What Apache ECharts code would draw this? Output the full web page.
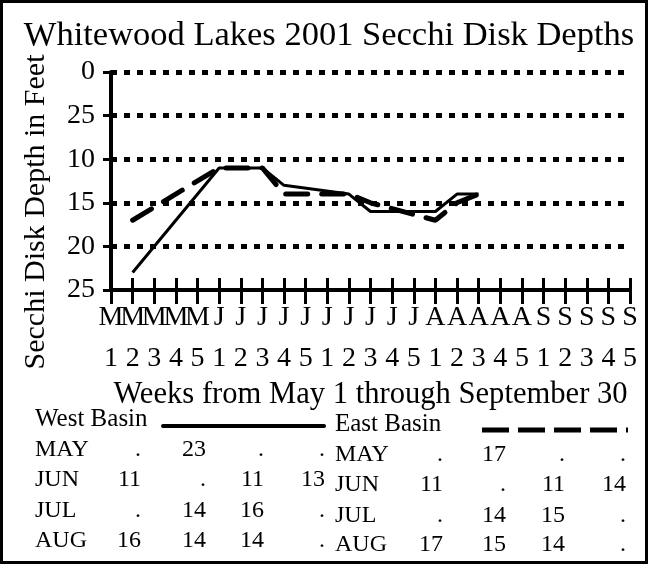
<!DOCTYPE html>
<html>
<head>
<meta charset="utf-8">
<script src="https://cdn.jsdelivr.net/npm/echarts@6/dist/echarts.min.js"></script>
<style>
  html, body { margin: 0; padding: 0; background: #fff; }
  #chart { width: 649px; height: 572px; }
</style>
</head>
<body>
<div id="chart"></div>
<script>
// Whitewood Lakes 2001 Secchi disk readings (feet), weeks 1-4 of each month
const monthNames = ['May', 'Jun', 'Jul', 'Aug', 'Sep'];
const weekNumbers = ['1', '2', '3', '4', '5'];
const yTickLabels = ['0', '25', '10', '15', '20', '25'];
const tableMonths = ['MAY', 'JUN', 'JUL', 'AUG'];

const westMay = [null, 23, null, null];
const westJun = [11, null, 11, 13];
const westJul = [null, 14, 16, null];
const westAug = [16, 14, 14, null];

const eastMay = [null, 17, null, null];
const eastJun = [11, null, 11, 14];
const eastJul = [null, 14, 15, null];
const eastAug = [17, 15, 14, null];

const westRows = [westMay, westJun, westJul, westAug];
const eastRows = [eastMay, eastJun, eastJul, eastAug];

const FONT_FAMILY = '"Liberation Serif", "Times New Roman", serif';

// one category per week, May week 1 through September week 5
const weeks = [];
monthNames.forEach(m => weekNumbers.forEach(w => weeks.push(m + ' ' + w)));

function weeklySeries(rows) {
  const out = [];
  monthNames.forEach((m, mi) => {
    weekNumbers.forEach((w, wi) => {
      const row = rows[mi];
      const v = row && wi < row.length ? row[wi] : null;
      out.push(v);
    });
  });
  return out;
}

const westSeries = weeklySeries(westRows);
const eastSeries = weeklySeries(eastRows);

function textEl(x, y, text, size, align) {
  return {
    type: 'text', x: x, y: y,
    style: { text: text, font: size + 'px ' + FONT_FAMILY, fill: '#000',
             align: align, verticalAlign: 'middle', textAlign: align, textVerticalAlign: 'middle' }
  };
}

// text table under the chart
function tableGraphics(title, rows, labelX, colRight, titleY, rowY) {
  const items = [textEl(labelX, titleY, title, 25, 'left')];
  rows.forEach((row, r) => {
    items.push(textEl(labelX, rowY[r], tableMonths[r], 24, 'left'));
    row.forEach((v, c) => {
      items.push(textEl(colRight[c], rowY[r], v == null ? '.' : String(v), 24, 'right'));
    });
  });
  return items;
}

const chart = echarts.init(document.getElementById('chart'), null, { renderer: 'canvas' });

const graphics = [
  { type: 'rect', shape: { x: 1.5, y: 1.5, width: 645, height: 561 },
    style: { fill: 'none', stroke: '#000', lineWidth: 3 }, z: 10 },
  textEl(329, 36, 'Whitewood Lakes 2001 Secchi Disk Depths', 34.5, 'center'),
  Object.assign(textEl(36, 212, 'Secchi Disk Depth in Feet', 30, 'center'), { rotation: Math.PI / 2 }),
  { type: 'line', shape: { x1: 163, y1: 426, x2: 324, y2: 426 },
    style: { stroke: '#000', lineWidth: 4, lineCap: 'round' } },
  { type: 'line', shape: { x1: 482, y1: 430, x2: 628, y2: 430 },
    style: { stroke: '#000', lineWidth: 5, lineDash: [27, 9] } }
].concat(
  tableGraphics('West Basin', westRows, 35, [141, 206, 264, 325], 419, [450, 480, 511, 541]),
  tableGraphics('East Basin', eastRows, 335, [443, 506, 565, 626], 424, [455, 485, 516, 545])
);

chart.setOption({
  animation: false,
  backgroundColor: '#fff',
  textStyle: { fontFamily: FONT_FAMILY, color: '#000' },
  grid: { left: 111, right: 19, top: 72, bottom: 282, containLabel: false },
  xAxis: [
    {
      type: 'category', data: weeks, boundaryGap: false, position: 'bottom',
      name: 'Weeks from May 1 through September 30', nameLocation: 'middle', nameGap: 88,
      nameTextStyle: { fontSize: 30.6, fontFamily: FONT_FAMILY, color: '#000' },
      axisLine: { show: true, onZero: false, lineStyle: { color: '#000', width: 4 } },
      axisTick: { show: true, interval: 0, length: 14, lineStyle: { color: '#000', width: 3 } },
      axisLabel: {
        interval: 0, margin: 7, fontSize: 28, lineHeight: 41, color: '#000', fontFamily: FONT_FAMILY,
        formatter: v => v.charAt(0) + '\n' + v.split(' ')[1]
      },
      splitLine: { show: false }
    },
    {
      type: 'category', data: weeks, boundaryGap: false, position: 'bottom',
      axisLine: { show: false, onZero: false },
      axisTick: { show: true, inside: true, interval: 0, length: 12, lineStyle: { color: '#000', width: 3 } },
      axisLabel: { show: false },
      splitLine: { show: false }
    }
  ],
  yAxis: {
    type: 'value', inverse: true, min: 0, max: 25, interval: 5,
    axisLine: { show: true, onZero: false, lineStyle: { color: '#000', width: 4 } },
    axisTick: { show: true, length: 8, lineStyle: { color: '#000', width: 3 } },
    axisLabel: {
      margin: 16, fontSize: 28, color: '#000', fontFamily: FONT_FAMILY,
      formatter: v => yTickLabels[Math.round(v / 5)]
    },
    splitLine: { show: true, showMaxLine: false, lineStyle: { color: '#000', width: 5, type: [6, 7] } }
  },
  series: [
    {
      name: 'West Basin', type: 'line', data: westSeries, connectNulls: true,
      symbol: 'none', xAxisIndex: 0,
      lineStyle: { color: '#000', width: 3 }, z: 5
    },
    {
      name: 'East Basin', type: 'line', data: eastSeries, connectNulls: true,
      symbol: 'none', xAxisIndex: 0,
      lineStyle: { color: '#000', width: 5, type: [22, 14], cap: 'round' }, z: 4
    }
  ],
  graphic: graphics
});
</script>
</body>
</html>
